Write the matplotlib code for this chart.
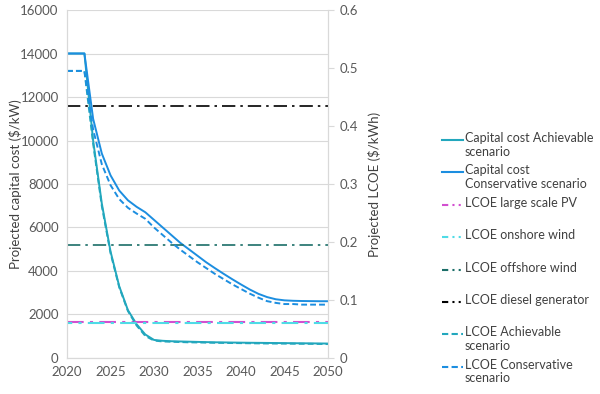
import matplotlib.pyplot as plt
from matplotlib.lines import Line2D

plt.rcParams['font.family'] = ['Lato', 'DejaVu Sans']

# data
years = list(range(2020, 2051))

# capital cost ($/kW), left axis
cap_achievable = [14000, 14000, 14000, 10000, 7100, 4900, 3300, 2200, 1550, 1080,
                  830, 790, 770, 760, 750, 740, 730, 722, 716, 710,
                  705, 700, 696, 692, 688, 684, 680, 676, 672, 668, 664]
cap_conservative = [14000, 14000, 14000, 11000, 9400, 8400, 7700, 7250, 6950, 6700,
                    6350, 6000, 5650, 5300, 5000, 4700, 4400, 4130, 3870, 3620,
                    3380, 3150, 2950, 2800, 2700, 2650, 2630, 2620, 2615, 2610, 2610]

# LCOE ($/kWh), right axis
lcoe_achievable = [0.495, 0.495, 0.495, 0.370, 0.262, 0.181, 0.122, 0.081, 0.056, 0.038,
                   0.030, 0.0285, 0.028, 0.0275, 0.027, 0.0268, 0.0265, 0.0262, 0.026, 0.0258,
                   0.0256, 0.0254, 0.0252, 0.025, 0.0249, 0.0248, 0.0246, 0.0245, 0.0244, 0.0242, 0.024]
lcoe_conservative = [0.495, 0.495, 0.495, 0.394, 0.334, 0.298, 0.274, 0.259, 0.249, 0.240,
                     0.225, 0.212, 0.199, 0.187, 0.176, 0.165, 0.155, 0.145, 0.136, 0.127,
                     0.119, 0.111, 0.104, 0.098, 0.095, 0.093, 0.093, 0.092, 0.092, 0.092, 0.092]
lcoe_pv = 0.062
lcoe_onshore = 0.0605
lcoe_offshore = 0.195
lcoe_diesel = 0.434

teal = '#22a7bd'
blue = '#1c8ee0'
dashdot = (0, (8, 3, 1.5, 3))
dashed = (0, (3, 1.6))
handle_dashdot = (0, (3, 2, 1, 2, 1, 2, 3))

fig = plt.figure(figsize=(6, 3.94), dpi=100)
ax = fig.add_axes([0.1117, 0.0914, 0.435, 0.8832])
ax2 = ax.twinx()

ax.plot(years, cap_achievable, color=teal, lw=1.4)
ax.plot(years, cap_conservative, color=blue, lw=1.4)

ax2.axhline(lcoe_pv, color='#d24fd0', lw=1.5, ls=dashdot)
ax2.axhline(lcoe_onshore, color='#4fdbe6', lw=1.5, ls=(5.5, (8, 3, 1.5, 3)))
ax2.axhline(lcoe_offshore, color='#1b6e68', lw=1.2, ls=dashdot)
ax2.axhline(lcoe_diesel, color='black', lw=1.2, ls=dashdot)
ax2.plot(years, lcoe_achievable, color=teal, lw=1.4, ls=dashed)
ax2.plot(years, lcoe_conservative, color=blue, lw=1.4, ls=dashed)

ax.set_xlim(2020, 2050)
ax.set_ylim(0, 16000)
ax2.set_ylim(0, 0.6)
ax.set_xticks(range(2020, 2051, 5))
ax.set_yticks(range(0, 16001, 2000))
ax2.set_yticks([0, 0.1, 0.2, 0.3, 0.4, 0.5, 0.6])
ax2.set_yticklabels(['0', '0.1', '0.2', '0.3', '0.4', '0.5', '0.6'])

ax.grid(axis='y', color='#d9d9d9', lw=0.8)
ax.set_axisbelow(True)
for a in (ax, ax2):
    for s in a.spines.values():
        s.set_color('#d9d9d9')
    a.spines['top'].set_visible(False)
ax.tick_params(axis='both', length=0, labelsize=9.5, colors='#595959', pad=6)
ax2.tick_params(axis='y', length=4, color='#d9d9d9', labelsize=9.5, labelcolor='#595959', pad=4)

ax.set_ylabel('Projected capital cost ($/kW)', fontsize=9.5, color='#404040')
ax2.set_ylabel('Projected LCOE ($/kWh)', fontsize=9.5, color='#404040')
ax.yaxis.set_label_coords(-0.172, 0.5)
ax2.yaxis.set_label_coords(1.153, 0.5)

# legend drawn in figure coordinates, one slot per entry
entries = [
    ('Capital cost Achievable\nscenario', teal, '-'),
    ('Capital cost\nConservative scenario', blue, '-'),
    ('LCOE large scale PV', '#d24fd0', handle_dashdot),
    ('LCOE onshore wind', '#4fdbe6', handle_dashdot),
    ('LCOE offshore wind', '#1b6e68', handle_dashdot),
    ('LCOE diesel generator', 'black', handle_dashdot),
    ('LCOE Achievable\nscenario', teal, dashed),
    ('LCOE Conservative\nscenario', blue, dashed),
]
for i, (label, color, ls) in enumerate(entries):
    y = 1 - (140 + i * 32.4) / 394
    fig.add_artist(Line2D([442 / 600, 463 / 600], [y, y], transform=fig.transFigure,
                          color=color, lw=1.5, ls=ls))
    fig.text(465 / 600, y + 8 / 394, label, fontsize=9, color='#404040',
             va='top', ha='left', linespacing=1.15)

fig.savefig('out.png', dpi=100)
